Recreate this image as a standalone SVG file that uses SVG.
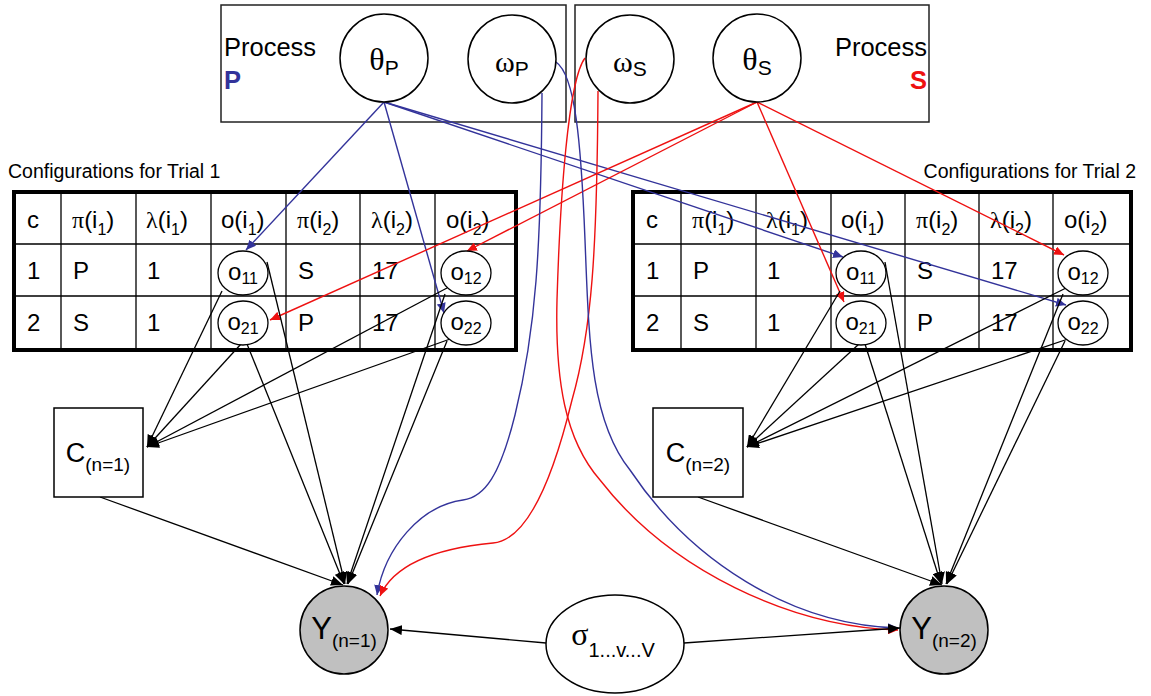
<svg xmlns="http://www.w3.org/2000/svg" width="1151" height="696" viewBox="0 0 1151 696">
  <style>
    text { font-family: "Liberation Sans", Arial, sans-serif; fill: #000; }
    .gk { font-family: "Liberation Serif", "Times New Roman", serif; }
    .cell { font-size: 24px; }
    .sub { font-size: 16px; }
    .cap { font-size: 19.5px; }
    .proc { font-size: 25.5px; }
    .box { fill: none; stroke: #222; stroke-width: 1.5; }
    .grid { fill: none; stroke: #000; stroke-width: 1.3; }
    .outer { fill: none; stroke: #000; stroke-width: 4; }
    .ell { fill: #fff; stroke: #000; stroke-width: 1.3; }
    .node { fill: #fff; stroke: #000; stroke-width: 1.5; }
    .obs { fill: #c0c0c0; stroke: #000; stroke-width: 1.5; }
    .k { stroke: #000; stroke-width: 1.3; fill: none; marker-end: url(#ak); }
    .b { stroke: #33339a; stroke-width: 1.4; fill: none; marker-end: url(#ab); }
    .r { stroke: #ee1111; stroke-width: 1.4; fill: none; marker-end: url(#ar); }
  </style>
  <defs>
    <marker id="ak" markerUnits="userSpaceOnUse" markerWidth="13" markerHeight="10" refX="12" refY="5" orient="auto">
      <path d="M0,0 L12,5 L0,10 z" fill="#000"/>
    </marker>
    <marker id="ab" markerUnits="userSpaceOnUse" markerWidth="11" markerHeight="9" refX="10" refY="4.5" orient="auto">
      <path d="M0,0 L10,4.5 L0,9 z" fill="#33339a"/>
    </marker>
    <marker id="ar" markerUnits="userSpaceOnUse" markerWidth="11" markerHeight="9" refX="10" refY="4.5" orient="auto">
      <path d="M0,0 L10,4.5 L0,9 z" fill="#ee1111"/>
    </marker>
  </defs>
  <rect width="1151" height="696" fill="#fff"/>

  <!-- process plates -->
  <g id="process-p">
    <rect class="box" x="221" y="5" width="345" height="117"/>
    <text class="proc" x="224" y="56">Process</text>
    <text class="proc" x="224" y="89" font-weight="bold" style="fill:#33339a">P</text>
  </g>
  <g id="process-s">
    <rect class="box" x="575" y="5" width="354" height="117"/>
    <text class="proc" x="927" y="56" text-anchor="end">Process</text>
    <text class="proc" x="927" y="89" text-anchor="end" font-weight="bold" style="fill:#ee1111">S</text>
  </g>

  <!-- configuration table, trial 1 -->
  <g id="table-trial1">
    <text class="cap" x="8" y="178">Configurations for Trial 1</text>
    <path class="grid" d="M14,244 H516 M14,296 H516 M61,192 V350 M136,192 V350 M211,192 V350 M286,192 V350 M360,192 V350 M435,192 V350"/>
    <rect class="outer" x="14" y="192" width="502" height="158"/>
    <text class="cell" x="27" y="228">c</text>
    <text class="cell" x="72" y="228"><tspan class="gk">π</tspan>(i<tspan class="sub" dy="7">1</tspan><tspan dy="-7">)</tspan></text>
    <text class="cell" x="146" y="228"><tspan class="gk">λ</tspan>(i<tspan class="sub" dy="7">1</tspan><tspan dy="-7">)</tspan></text>
    <text class="cell" x="221" y="228">o(i<tspan class="sub" dy="7">1</tspan><tspan dy="-7">)</tspan></text>
    <text class="cell" x="297" y="228"><tspan class="gk">π</tspan>(i<tspan class="sub" dy="7">2</tspan><tspan dy="-7">)</tspan></text>
    <text class="cell" x="371" y="228"><tspan class="gk">λ</tspan>(i<tspan class="sub" dy="7">2</tspan><tspan dy="-7">)</tspan></text>
    <text class="cell" x="446" y="228">o(i<tspan class="sub" dy="7">2</tspan><tspan dy="-7">)</tspan></text>
    <text class="cell" x="27" y="279">1</text>
    <text class="cell" x="73" y="279">P</text>
    <text class="cell" x="147" y="279">1</text>
    <text class="cell" x="298" y="279">S</text>
    <text class="cell" x="372" y="279">17</text>
    <text class="cell" x="27" y="331">2</text>
    <text class="cell" x="73" y="331">S</text>
    <text class="cell" x="147" y="331">1</text>
    <text class="cell" x="298" y="331">P</text>
    <text class="cell" x="372" y="331">17</text>
  </g>

  <!-- configuration table, trial 2 -->
  <g id="table-trial2">
    <text class="cap" x="1136" y="178" text-anchor="end">Configurations for Trial 2</text>
    <path class="grid" d="M633,244 H1131 M633,296 H1131 M681,192 V350 M756,192 V350 M831,192 V350 M905,192 V350 M979,192 V350 M1053,192 V350"/>
    <rect class="outer" x="633" y="192" width="498" height="158"/>
    <text class="cell" x="646" y="228">c</text>
    <text class="cell" x="692" y="228"><tspan class="gk">π</tspan>(i<tspan class="sub" dy="7">1</tspan><tspan dy="-7">)</tspan></text>
    <text class="cell" x="766" y="228"><tspan class="gk">λ</tspan>(i<tspan class="sub" dy="7">1</tspan><tspan dy="-7">)</tspan></text>
    <text class="cell" x="841" y="228">o(i<tspan class="sub" dy="7">1</tspan><tspan dy="-7">)</tspan></text>
    <text class="cell" x="916" y="228"><tspan class="gk">π</tspan>(i<tspan class="sub" dy="7">2</tspan><tspan dy="-7">)</tspan></text>
    <text class="cell" x="990" y="228"><tspan class="gk">λ</tspan>(i<tspan class="sub" dy="7">2</tspan><tspan dy="-7">)</tspan></text>
    <text class="cell" x="1064" y="228">o(i<tspan class="sub" dy="7">2</tspan><tspan dy="-7">)</tspan></text>
    <text class="cell" x="646" y="279">1</text>
    <text class="cell" x="693" y="279">P</text>
    <text class="cell" x="767" y="279">1</text>
    <text class="cell" x="917" y="279">S</text>
    <text class="cell" x="991" y="279">17</text>
    <text class="cell" x="646" y="331">2</text>
    <text class="cell" x="693" y="331">S</text>
    <text class="cell" x="767" y="331">1</text>
    <text class="cell" x="917" y="331">P</text>
    <text class="cell" x="991" y="331">17</text>
  </g>

  <!-- edges -->
  <g id="connectors">
    <!-- theta_P to outcome cells -->
    <line class="b" x1="384" y1="102" x2="246" y2="250"/>
    <line class="b" x1="384" y1="102" x2="444" y2="313"/>
    <line class="b" x1="384" y1="102" x2="843" y2="257"/>
    <line class="b" x1="384" y1="102" x2="1066" y2="305"/>
    <!-- theta_S to outcome cells -->
    <line class="r" x1="757" y1="102" x2="467" y2="251"/>
    <line class="r" x1="757" y1="102" x2="270" y2="320"/>
    <line class="r" x1="757" y1="102" x2="844" y2="302"/>
    <line class="r" x1="757" y1="102" x2="1064" y2="255"/>
    <!-- omega curves to the responses -->
    <path class="b" d="M542,93 C541,250 536,330 515,415 C500,475 485,497 463,500 C420,506 385,548 377,595"/>
    <path class="r" d="M598,91 C597,250 592,330 572,400 C555,470 530,540 493,543 C440,548 395,562 380,596"/>
    <path class="b" d="M556,62 C575,75 581,140 585,240 C589,340 590,420 630,470 C690,560 790,625 898,628"/>
    <path class="r" d="M585,58 C568,80 560,200 557,300 C555,380 565,440 600,480 C670,570 790,627 898,630"/>
    <!-- trial 1 outcomes to C and Y -->
    <line class="k" x1="222" y1="291" x2="147" y2="447"/>
    <line class="k" x1="241" y1="344" x2="147" y2="447"/>
    <line class="k" x1="447" y1="288" x2="147" y2="447"/>
    <line class="k" x1="453" y1="338" x2="147" y2="447"/>
    <line class="k" x1="267" y1="262" x2="345" y2="584"/>
    <line class="k" x1="247" y1="344" x2="344" y2="584"/>
    <line class="k" x1="445" y1="294" x2="347" y2="584"/>
    <line class="k" x1="447" y1="341" x2="348" y2="584"/>
    <line class="k" x1="100" y1="497" x2="343" y2="585"/>
    <!-- trial 2 outcomes to C and Y -->
    <line class="k" x1="840" y1="291" x2="747" y2="447"/>
    <line class="k" x1="859" y1="344" x2="747" y2="447"/>
    <line class="k" x1="1066" y1="288" x2="747" y2="447"/>
    <line class="k" x1="1071" y1="338" x2="747" y2="447"/>
    <line class="k" x1="885" y1="262" x2="942" y2="584"/>
    <line class="k" x1="865" y1="344" x2="941" y2="584"/>
    <line class="k" x1="1063" y1="294" x2="946" y2="584"/>
    <line class="k" x1="1065" y1="341" x2="947" y2="584"/>
    <line class="k" x1="698" y1="497" x2="942" y2="585"/>
    <!-- noise term to responses -->
    <line class="k" x1="546" y1="643" x2="390" y2="629"/>
    <line class="k" x1="684" y1="643" x2="900" y2="628"/>
  </g>

  <!-- latent parameters -->
  <g id="theta-p">
    <circle class="node" cx="384" cy="58" r="44"/>
    <text x="384" y="70" text-anchor="middle"><tspan class="gk" font-size="32">θ</tspan><tspan font-size="21" dy="5">P</tspan></text>
  </g>
  <g id="omega-p">
    <circle class="node" cx="512" cy="59" r="44"/>
    <text x="512" y="72" text-anchor="middle"><tspan class="gk" font-size="30">ω</tspan><tspan font-size="21" dy="4">P</tspan></text>
  </g>
  <g id="omega-s">
    <circle class="node" cx="630" cy="59" r="44"/>
    <text x="630" y="72" text-anchor="middle"><tspan class="gk" font-size="30">ω</tspan><tspan font-size="21" dy="4">S</tspan></text>
  </g>
  <g id="theta-s">
    <circle class="node" cx="757" cy="58" r="44"/>
    <text x="757" y="70" text-anchor="middle"><tspan class="gk" font-size="32">θ</tspan><tspan font-size="21" dy="5">S</tspan></text>
  </g>

  <!-- outcome cells, trial 1 -->
  <g id="t1-o11">
    <ellipse class="ell" cx="243" cy="273" rx="25" ry="22"/>
    <text class="cell" x="243" y="280" text-anchor="middle">o<tspan class="sub" dy="4">11</tspan></text>
  </g>
  <g id="t1-o21">
    <ellipse class="ell" cx="243" cy="323" rx="25" ry="22"/>
    <text class="cell" x="243" y="330" text-anchor="middle">o<tspan class="sub" dy="4">21</tspan></text>
  </g>
  <g id="t1-o12">
    <ellipse class="ell" cx="466" cy="273" rx="25" ry="22"/>
    <text class="cell" x="466" y="280" text-anchor="middle">o<tspan class="sub" dy="4">12</tspan></text>
  </g>
  <g id="t1-o22">
    <ellipse class="ell" cx="466" cy="323" rx="25" ry="22"/>
    <text class="cell" x="466" y="330" text-anchor="middle">o<tspan class="sub" dy="4">22</tspan></text>
  </g>

  <!-- outcome cells, trial 2 -->
  <g id="t2-o11">
    <ellipse class="ell" cx="861" cy="273" rx="25" ry="22"/>
    <text class="cell" x="861" y="280" text-anchor="middle">o<tspan class="sub" dy="4">11</tspan></text>
  </g>
  <g id="t2-o21">
    <ellipse class="ell" cx="861" cy="323" rx="25" ry="22"/>
    <text class="cell" x="861" y="330" text-anchor="middle">o<tspan class="sub" dy="4">21</tspan></text>
  </g>
  <g id="t2-o12">
    <ellipse class="ell" cx="1083" cy="273" rx="25" ry="22"/>
    <text class="cell" x="1083" y="280" text-anchor="middle">o<tspan class="sub" dy="4">12</tspan></text>
  </g>
  <g id="t2-o22">
    <ellipse class="ell" cx="1083" cy="323" rx="25" ry="22"/>
    <text class="cell" x="1083" y="330" text-anchor="middle">o<tspan class="sub" dy="4">22</tspan></text>
  </g>

  <!-- configuration counts -->
  <g id="c-n1">
    <rect class="node" x="54" y="408" width="89" height="89"/>
    <text x="98" y="462" text-anchor="middle"><tspan font-size="27">C</tspan><tspan font-size="19" dy="9">(n=1)</tspan></text>
  </g>
  <g id="c-n2">
    <rect class="node" x="653" y="408" width="90" height="89"/>
    <text x="698" y="462" text-anchor="middle"><tspan font-size="27">C</tspan><tspan font-size="19" dy="9">(n=2)</tspan></text>
  </g>

  <!-- observed responses -->
  <g id="y-n1">
    <circle class="obs" cx="344" cy="630" r="44"/>
    <text x="344" y="639" text-anchor="middle"><tspan font-size="31">Y</tspan><tspan font-size="19" dy="8">(n=1)</tspan></text>
  </g>
  <g id="y-n2">
    <circle class="obs" cx="944" cy="630" r="44"/>
    <text x="944" y="639" text-anchor="middle"><tspan font-size="31">Y</tspan><tspan font-size="19" dy="8">(n=2)</tspan></text>
  </g>

  <!-- noise parameter -->
  <g id="sigma">
    <ellipse class="node" cx="615" cy="644" rx="69" ry="49"/>
    <text x="613" y="645" text-anchor="middle"><tspan class="gk" font-size="32">σ</tspan><tspan font-size="20" dy="12">1...v...V</tspan></text>
  </g>
</svg>
